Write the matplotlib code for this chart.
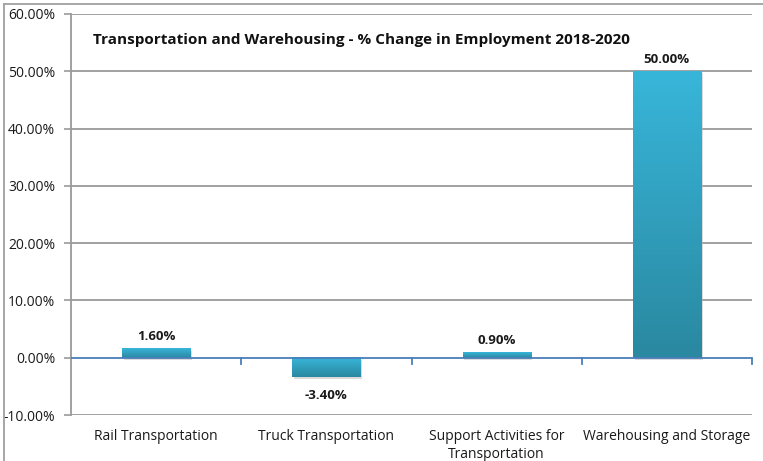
import numpy as np
import matplotlib.pyplot as plt
from matplotlib.lines import Line2D
from matplotlib.colors import LinearSegmentedColormap
from matplotlib.ticker import FuncFormatter, MultipleLocator

categories = ["Rail Transportation", "Truck Transportation",
              "Support Activities for\nTransportation", "Warehousing and Storage"]
pct_change = [1.6, -3.4, 0.9, 50.0]
value_labels = ["1.60%", "-3.40%", "0.90%", "50.00%"]

plt.rcParams['font.family'] = ['Open Sans', 'DejaVu Sans']

fig = plt.figure(figsize=(7.63, 4.61), dpi=100)
ax = fig.add_axes([71 / 763, 1 - 415 / 461, (752 - 71) / 763, (415 - 14) / 461])

ax.set_xlim(0, len(categories))
ax.set_ylim(-10, 60)

# gradient fill: light cyan at the top, teal at the bottom
cmap = LinearSegmentedColormap.from_list("bar", ["#2a88a0", "#38b6da"])
grad = np.linspace(0, 1, 256).reshape(-1, 1)
width = 0.4
for i, v in enumerate(pct_change):
    x0 = i + 0.5 - width / 2
    lo, hi = min(0, v), max(0, v)
    # soft drop shadow
    ax.add_patch(plt.Rectangle((x0 + 0.01, lo - 0.35), width, hi - lo,
                               color="#b8b8b8", alpha=0.5, lw=0, zorder=2))
    ax.imshow(grad, cmap=cmap, origin="lower", aspect="auto",
              extent=(x0, x0 + width, lo, hi), zorder=3)
    if v >= 0:
        ax.text(i + 0.5, v + 1.0, value_labels[i], ha="center", va="bottom",
                fontsize=9.5, fontweight="bold", color="#1a1a1a")
    else:
        ax.text(i + 0.5, v - 2.0, value_labels[i], ha="center", va="top",
                fontsize=9.5, fontweight="bold", color="#1a1a1a")

ax.set_aspect("auto")

# horizontal gridlines (skip zero, drawn as the blue axis)
for y in range(-10, 61, 10):
    if y != 0:
        ax.axhline(y, color="#9a9a9a", lw=1.3, zorder=1)
ax.axhline(0, color="#4a7ebb", lw=1.3, zorder=4)
for i in range(1, len(categories) + 1):
    ax.plot([i, i], [0, -1.1], color="#4a7ebb", lw=1.3, zorder=4, clip_on=False)

ax.yaxis.set_major_locator(MultipleLocator(10))
ax.yaxis.set_major_formatter(FuncFormatter(lambda v, _: f"{v:.2f}%"))
ax.tick_params(axis="y", length=5, width=1.2, color="#9a9a9a",
               labelsize=10, labelcolor="#1a1a1a", pad=6.5)

ax.set_xticks([i + 0.5 for i in range(len(categories))])
ax.set_xticklabels(categories, fontsize=10, color="#1a1a1a", linespacing=1.25)
ax.tick_params(axis="x", length=0, pad=10)

for side in ["top", "right", "bottom"]:
    ax.spines[side].set_visible(False)
ax.spines["left"].set_color("#9a9a9a")
ax.spines["left"].set_linewidth(1.3)

ax.text(22 / 681, 1 - (40 - 14) / 401,
        "Transportation and Warehousing - % Change in Employment 2018-2020",
        transform=ax.transAxes, ha="left", va="center",
        fontsize=11, fontweight="bold", color="#111111")

# outer chart frame
fig.add_artist(Line2D([4 / 763, 1], [1 - 4 / 461, 1 - 4 / 461], color="#a0a0a0", lw=1.3))
fig.add_artist(Line2D([4 / 763, 4 / 763], [0, 1 - 4 / 461], color="#a0a0a0", lw=1.3))

fig.savefig("out.png", dpi=100)
